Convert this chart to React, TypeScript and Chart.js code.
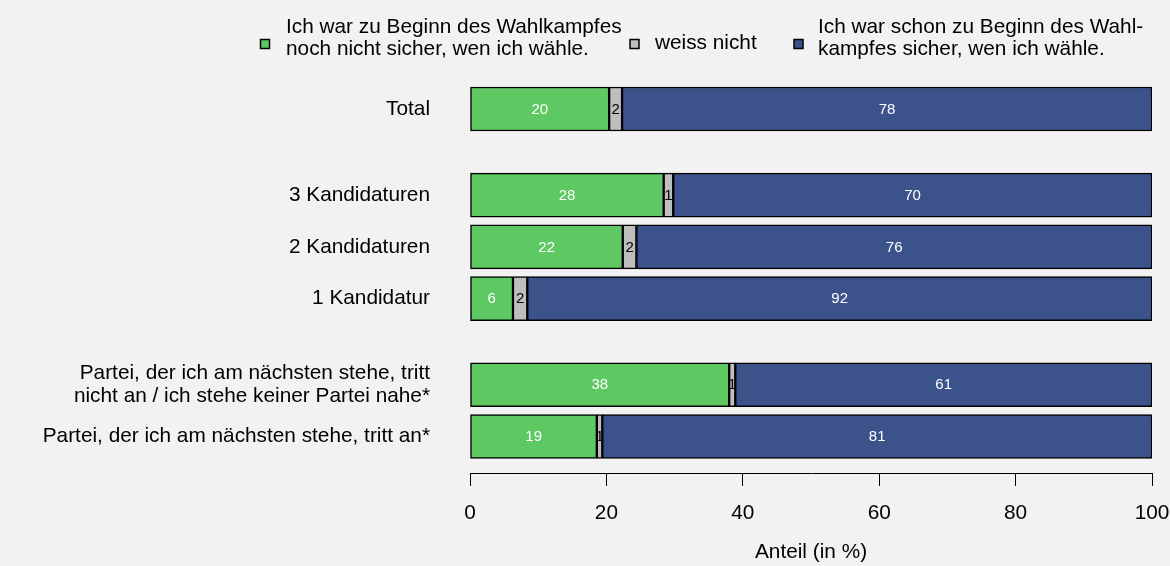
import React, { useEffect, useRef } from "react";
import { Chart, registerables } from "chart.js";

Chart.register(...registerables);

// ---- data ----
const categories: (string | string[])[] = [
  "Total",
  "3 Kandidaturen",
  "2 Kandidaturen",
  "1 Kandidatur",
  ["Partei, der ich am nächsten stehe, tritt", "nicht an / ich stehe keiner Partei nahe*"],
  "Partei, der ich am nächsten stehe, tritt an*",
];
const groupOf = [0, 1, 1, 1, 2, 2];

const unsure = [20.4, 28.4, 22.4, 6.3, 38.0, 18.6];
const dontKnow = [1.9, 1.4, 2.0, 2.1, 0.9, 0.8];
const sure = [77.7, 70.2, 75.6, 91.6, 61.1, 80.6];

const seriesNames: string[][] = [
  ["Ich war zu Beginn des Wahlkampfes", "noch nicht sicher, wen ich wähle."],
  ["weiss nicht"],
  ["Ich war schon zu Beginn des Wahl-", "kampfes sicher, wen ich wähle."],
];
const xTickValues = [0, 20, 40, 60, 80, 100];
const xTitle = "Anteil (in %)";

// ---- style ----
const COLORS = ["#5ec962", "#bebebe", "#3b528b"];
const LABEL_COLORS = ["#ffffff", "#000000", "#ffffff"];
const FONT = "'Liberation Sans', Arial, sans-serif";
const FS = 20.8;
const BG = "#f2f2f2";
const GROUP_GAP = 2 / 3;

const rowPos = categories.map((_, i) => i + groupOf[i] * GROUP_GAP);

const bgPlugin = {
  id: "bg",
  beforeDraw(chart: any) {
    const { ctx, width, height } = chart;
    ctx.save();
    ctx.fillStyle = BG;
    ctx.fillRect(0, 0, width, height);
    ctx.restore();
  },
};

const valueLabelPlugin = {
  id: "valueLabels",
  afterDatasetsDraw(chart: any) {
    const { ctx } = chart;
    ctx.save();
    ctx.font = `15px ${FONT}`;
    ctx.textAlign = "center";
    ctx.textBaseline = "middle";
    chart.data.datasets.forEach((ds: any, i: number) => {
      const meta = chart.getDatasetMeta(i);
      meta.data.forEach((bar: any, j: number) => {
        const { x, base, y } = bar.getProps(["x", "base", "y"], true);
        ctx.fillStyle = LABEL_COLORS[i];
        ctx.fillText(String(Math.round(ds.data[j].x)), (x + base) / 2, y + 0.5);
      });
    });
    ctx.restore();
  },
};

const legendPlugin = {
  id: "customLegend",
  afterDraw(chart: any) {
    const { ctx } = chart;
    const items = [
      { sq: 265, tx: 286 },
      { sq: 634.5, tx: 655 },
      { sq: 798.5, tx: 818 },
    ];
    ctx.save();
    ctx.font = `${FS}px ${FONT}`;
    ctx.textAlign = "left";
    ctx.textBaseline = "alphabetic";
    seriesNames.forEach((lines, i) => {
      const it = items[i];
      ctx.fillStyle = COLORS[i];
      ctx.strokeStyle = "#000";
      ctx.lineWidth = 1.5;
      ctx.fillRect(it.sq - 4.5, 39.5, 9, 9);
      ctx.strokeRect(it.sq - 4.5, 39.5, 9, 9);
      ctx.fillStyle = "#000";
      if (lines.length === 1) {
        ctx.fillText(lines[0], it.tx, 48.5);
      } else {
        ctx.fillText(lines[0], it.tx, 32.7);
        ctx.fillText(lines[1], it.tx, 54.5);
      }
    });
    ctx.restore();
  },
};

export default function App() {
  const ref = useRef<HTMLCanvasElement | null>(null);

  useEffect(() => {
    document.body.style.margin = "0";
    const canvas = ref.current;
    if (!canvas) return;
    const series = [unsure, dontKnow, sure];
    const chart = new Chart(canvas, {
      type: "bar",
      data: {
        datasets: series.map((vals, i) => ({
          label: seriesNames[i].join(" "),
          data: vals.map((v, j) => ({ x: v, y: rowPos[j] })),
          backgroundColor: COLORS[i],
          borderColor: "#000000",
          borderWidth: 1.5,
          borderSkipped: false,
          barThickness: 44,
        })),
      },
      options: {
        indexAxis: "y",
        animation: false,
        responsive: false,
        maintainAspectRatio: false,
        layout: { padding: { top: 70, right: 18, bottom: 0, left: 0 } },
        plugins: {
          legend: { display: false },
          tooltip: { enabled: false },
        },
        scales: {
          x: {
            type: "linear",
            stacked: true,
            min: 0,
            max: 100,
            afterFit(scale: any) {
              scale.height = 93;
              scale.paddingLeft = 0;
              scale.paddingRight = 0;
            },
            afterBuildTicks(scale: any) {
              scale.ticks = xTickValues.map((v) => ({ value: v }));
            },
            ticks: {
              color: "#000",
              font: { family: FONT, size: FS, lineHeight: 1.2 },
              padding: 14.5,
              maxRotation: 0,
              autoSkip: false,
            },
            grid: {
              display: true,
              drawOnChartArea: false,
              drawTicks: true,
              tickLength: 13,
              color: "#000",
              lineWidth: 1,
            },
            border: { display: true, color: "#000", width: 1 },
            title: {
              display: true,
              text: xTitle,
              color: "#000",
              font: { family: FONT, size: FS, lineHeight: 1.2 },
              padding: { top: 0, bottom: 1.5 },
            },
          },
          y: {
            type: "linear",
            stacked: true,
            reverse: true,
            offset: false,
            min: -0.754,
            max: 7.04,
            afterFit(scale: any) {
              scale.width = 470;
              scale.paddingTop = 0;
              scale.paddingBottom = 0;
            },
            afterBuildTicks(scale: any) {
              scale.ticks = rowPos.map((v) => ({ value: v }));
            },
            ticks: {
              color: "#000",
              font: { family: FONT, size: FS, lineHeight: 1.1 },
              padding: 40,
              autoSkip: false,
              callback: (_v: any, i: number) => categories[i],
            },
            grid: { display: false, drawTicks: false, offset: false },
            border: { display: false },
          },
        },
      },
      plugins: [bgPlugin, valueLabelPlugin, legendPlugin],
    } as any);
    return () => chart.destroy();
  }, []);

  return (
    <div style={{ position: "fixed", left: 0, top: 0, width: 1170, height: 566, background: BG }}>
      <canvas ref={ref} width={1170} height={566} style={{ display: "block", width: 1170, height: 566 }} />
    </div>
  );
}
